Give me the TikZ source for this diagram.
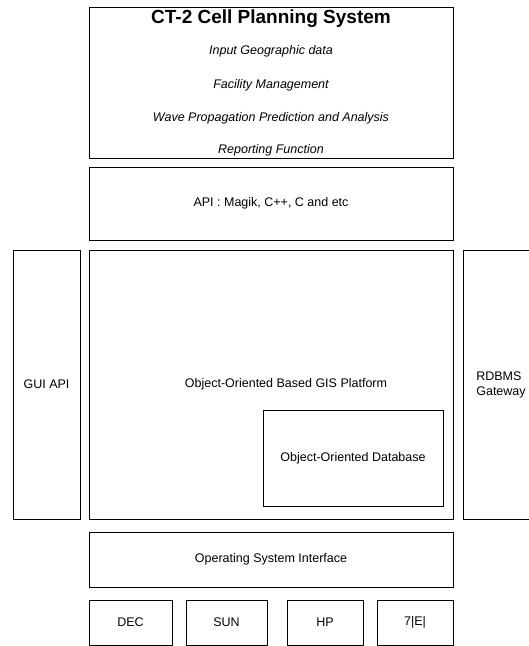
\documentclass[tikz,border=0pt]{standalone}
\usepackage{fontspec}
\setmainfont{Liberation Sans}
\begin{document}
\begin{tikzpicture}[x=1pt,y=-1pt,
    box/.style={draw,line width=0.5pt,inner sep=0pt,font=\fontsize{12.5}{15}\selectfont},
    itemtext/.style={font=\fontsize{12.5}{15}\selectfont\itshape}]
            \useasboundingbox (0,0) rectangle (529,646);

            % Define centres of the layers
            \coordinate (s) at (271,82.5);
            \coordinate (a) at (271,203.5);
            \coordinate (g) at (271,384.5);
            \coordinate (o) at (271,559.5);

            % Application and API layers
            \node[box,minimum width=364pt,minimum height=151pt] (sys) at (s) {};
            \node[box,minimum width=364pt,minimum height=73pt] (api) at (a) {API : Magik, C++, C and etc};

            % Texts of the application layer
            \node[font=\fontsize{19}{21}\selectfont\bfseries] (title) at (271,19) {CT-2 Cell Planning System};
            \node[itemtext] (geo) at (271,51) {Input Geographic data};
            \node[itemtext] (fac) at (271,85) {Facility Management};
            \node[itemtext] (wave) at (271,118) {Wave Propagation Prediction and Analysis};
            \node[itemtext] (rep) at (271,150) {Reporting Function};

            % GIS platform with its side boxes
            \node[box,minimum width=364pt,minimum height=269pt] (gis) at (g) {};
            \node[font=\fontsize{12.5}{15}\selectfont] (gistext) at (286,384) {Object-Oriented Based GIS Platform};
            \node[box,minimum width=180pt,minimum height=96pt] (oodb) at (353,458) {Object-Oriented Database};
            \node[box,minimum width=67pt,minimum height=269pt] (gui) at (46.5,384.5) {GUI API};
            \node[box,minimum width=76pt,minimum height=269pt,align=left] (rdbms) at (501,384.5) {RDBMS\\Gateway};

            % Operating system and machines
            \node[box,minimum width=364pt,minimum height=55pt] (os) at (o) {Operating System Interface};
            \node[box,minimum width=83pt,minimum height=45pt] (dec) at (130.5,622.5) {DEC};
            \node[box,minimum width=81pt,minimum height=45pt] (sun) at (226.5,622.5) {SUN};
            \node[box,minimum width=76pt,minimum height=45pt] (hp) at (325,622.5) {HP};
            \node[box,minimum width=76pt,minimum height=45pt] (etc) at (415,622.5) {7|E|};
        \end{tikzpicture}
\end{document}
